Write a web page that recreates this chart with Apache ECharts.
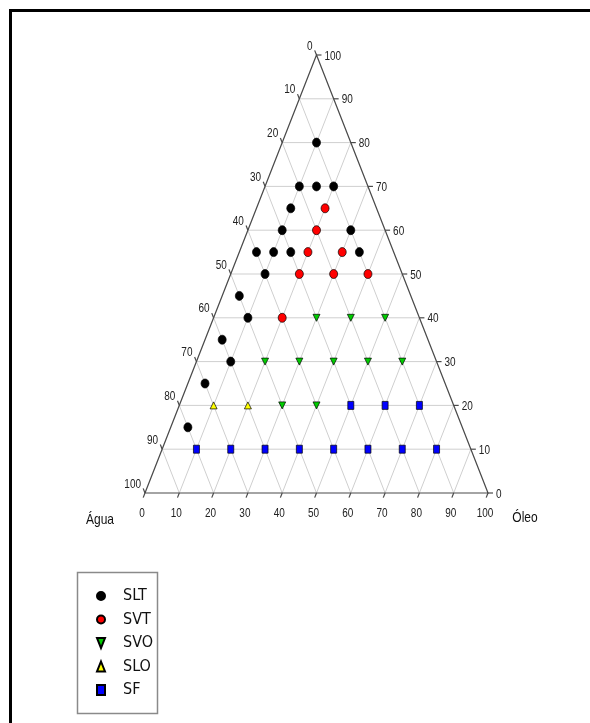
<!DOCTYPE html>
<html lang="pt">
<head>
<meta charset="UTF-8">
<title>Diagrama ternário</title>
<script src="https://cdn.jsdelivr.net/npm/echarts@6/dist/echarts.min.js"></script>
<style>
  html, body { margin: 0; padding: 0; background: #fff; }
  #main { width: 590px; height: 723px; }
</style>
</head>
<body>
<div id="main"></div>
<script>
// tick values and labels on the three sides
const ticks = [0, 10, 20, 30, 40, 50, 60, 70, 80, 90, 100];
const bottomLabels = ['0', '10', '20', '30', '40', '50', '60', '70', '80', '90', '100'];
const leftLabels = ['0', '10', '20', '30', '40', '50', '60', '70', '80', '90', '100'];   // apex -> bottom-left
const rightLabels = ['0', '10', '20', '30', '40', '50', '60', '70', '80', '90', '100'];  // bottom-right -> apex
const cornerNames = ['Água', 'Óleo'];

// points as [bottom axis value, right axis value]
const seriesNames = ['SLT', 'SVT', 'SVO', 'SLO', 'SF'];
const slt = [[10, 80], [10, 70], [15, 70], [20, 70], [10, 65], [10, 60], [30, 60],
  [5, 55], [10, 55], [15, 55], [35, 55], [10, 50], [5, 45], [10, 40], [5, 35],
  [10, 30], [5, 25], [5, 15]];
const svt = [[20, 65], [20, 60], [20, 55], [30, 55], [20, 50], [30, 50], [40, 50], [20, 40]];
const svo = [[30, 40], [40, 40], [50, 40], [20, 30], [30, 30], [40, 30], [50, 30], [60, 30],
  [30, 20], [40, 20]];
const slo = [[10, 20], [20, 20]];
const sf = [[50, 20], [60, 20], [70, 20], [10, 10], [20, 10], [30, 10], [40, 10], [50, 10],
  [60, 10], [70, 10], [80, 10]];

// ternary -> cartesian (x spans the base, y is the height)
function tern(b, r) { return [b + r / 2, r]; }

const markerStyles = [
  { symbol: 'circle', size: [8, 9], color: '#000000' },
  { symbol: 'circle', size: [8, 9], color: '#ff0000' },
  { symbol: 'path://M0,0L10,0L5,10Z', size: [7, 7], color: '#00cd00' },
  { symbol: 'triangle', size: [7, 7], color: '#ffff00' },
  { symbol: 'rect', size: [6, 8], color: '#0000ff' }
];

const FONT = '"Liberation Sans", Arial, sans-serif';

function label(s, x, y, align, size, sy, color) {
  return {
    type: 'text', x: x, y: y, scaleY: sy,
    style: { text: s, x: 0, y: 0, align: align, verticalAlign: 'middle',
      fill: color, fontSize: size, fontFamily: FONT }
  };
}

function renderFrame(params, api) {
  const P = (b, r) => api.coord(tern(b, r));
  const kids = [];
  const seg = (a, c, st) => kids.push({ type: 'line', shape: { x1: a[0], y1: a[1], x2: c[0], y2: c[1] }, style: st });
  const gridSt = { stroke: '#cfcfcf', lineWidth: 1 };
  const edgeSt = { stroke: '#4a4a4a', lineWidth: 1.2 };

  ticks.slice(1, -1).forEach(v => {
    seg(P(0, v), P(100 - v, v), gridSt);
    seg(P(v, 0), P(v, 100 - v), gridSt);
    seg(P(v, 0), P(0, v), gridSt);
  });
  kids.push({ type: 'polygon', shape: { points: [P(0, 0), P(100, 0), P(0, 100)] },
    style: { fill: null, stroke: '#4a4a4a', lineWidth: 1.2 } });

  // tick directions: extensions of the grid lines
  const unit = (a, c) => { const dx = c[0] - a[0], dy = c[1] - a[1], l = Math.hypot(dx, dy); return [dx / l, dy / l]; };
  const dl = unit(P(10, 0), P(0, 10));
  const db = unit(P(10, 10), P(10, 0));
  const T = 5;
  ticks.forEach((v, i) => {
    const r = P(100 - v, v);
    seg(r, [r[0] + T, r[1]], edgeSt);
    kids.push(label(rightLabels[i], r[0] + 8, r[1] + 1, 'left', 10, 1.3, '#222'));
    const l = P(0, 100 - v);
    seg(l, [l[0] + dl[0] * T, l[1] + dl[1] * T], edgeSt);
    kids.push(label(leftLabels[i], l[0] - 4, l[1] - 9, 'right', 10, 1.3, '#222'));
    const b = P(v, 0);
    seg(b, [b[0] + db[0] * T, b[1] + db[1] * T], edgeSt);
    kids.push(label(bottomLabels[i], b[0] - 3, b[1] + 20, 'center', 10, 1.3, '#222'));
  });
  const c0 = P(0, 0), c1 = P(100, 0);
  kids.push(label(cornerNames[0], c0[0] - 45, c0[1] + 27, 'center', 12, 1.25, '#111'));
  kids.push(label(cornerNames[1], c1[0] + 37, c1[1] + 25, 'center', 12, 1.25, '#111'));
  return { type: 'group', children: kids };
}

const groups = [slt, svt, svo, slo, sf];
const series = [{
  type: 'custom', silent: true, z: 1, clip: false,
  renderItem: renderFrame, data: [[50, 50]]
}];
groups.forEach((pts, i) => {
  const m = markerStyles[i];
  series.push({
    name: seriesNames[i], type: 'scatter', z: 3,
    symbol: m.symbol, symbolSize: m.size,
    itemStyle: { color: m.color, borderColor: '#000', borderWidth: 0.7, opacity: 1 },
    emphasis: { disabled: true },
    data: pts.map(p => tern(p[0], p[1]))
  });
});

const chart = echarts.init(document.getElementById('main'), null, { renderer: 'canvas' });
chart.setOption({
  animation: false,
  grid: { left: 145, right: 102, top: 55, bottom: 230 },
  xAxis: { type: 'value', min: 0, max: 100, show: false },
  yAxis: { type: 'value', min: 0, max: 100, show: false },
  legend: {
    orient: 'vertical', left: 96, top: 588, padding: 0,
    height: 130,
    data: seriesNames,
    itemWidth: 8, itemHeight: 10, itemGap: 7.5,
    symbolKeepAspect: false,
    selectedMode: false,
    textStyle: { fontSize: 16,
      fontFamily: '"Liberation Sans Narrow", "DejaVu Sans Condensed", ' + FONT,
      color: '#111', padding: [0, 0, 0, 13] }
  },
  graphic: [
    { type: 'rect', shape: { x: 10.5, y: 10.5, width: 620, height: 740 },
      style: { fill: null, stroke: '#000', lineWidth: 3 }, silent: true },
    { type: 'rect', shape: { x: 77.5, y: 572.5, width: 80, height: 141 },
      style: { fill: null, stroke: '#8a8a8a', lineWidth: 1.5 }, silent: true }
  ],
  series: series
});
</script>
</body>
</html>
